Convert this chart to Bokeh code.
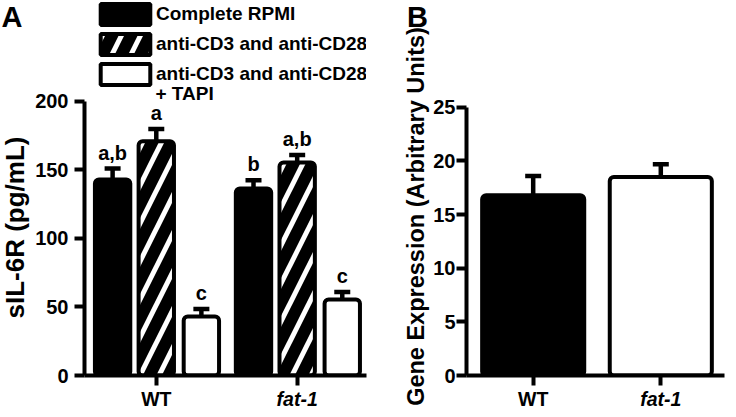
import math
from bokeh.plotting import figure
from bokeh.layouts import row, column
from bokeh.models import (ColumnDataSource, FixedTicker, Legend, LegendItem, Label,
                          Whisker, TeeHead, CustomJSTickFormatter, Range1d)
from bokeh.embed import file_html
from bokeh.resources import INLINE
from bokeh.core.properties import value

# ---------------- data ----------------
groups = ["WT", "fat-1"]
group_italic = [False, True]
treatments = ["Complete RPMI", "anti-CD3 and anti-CD28", "anti-CD3 and anti-CD28 + TAPI"]

complete_rpmi = [143, 136.5]
complete_rpmi_sem = [8, 6]
anti_cd3_cd28 = [171, 155.5]
anti_cd3_cd28_sem = [9, 5.5]
anti_cd3_cd28_tapi = [43, 55.5]
anti_cd3_cd28_tapi_sem = [5.5, 5.5]

letters_complete = ["a,b", "b"]
letters_anti = ["a", "a,b"]
letters_tapi = ["c", "c"]

a_yticks = [0, 50, 100, 150, 200]
a_ylabel = "sIL-6R (pg/mL)"
a_panel = "A"

gene_expression = [16.8, 18.5]
gene_expression_sem = [1.8, 1.2]
b_yticks = [0, 5, 10, 15, 20, 25]
b_ylabel = "Gene Expression (Arbitrary Units)"
b_panel = "B"

FONT = "Liberation Sans"
H = 409          # total height
H_TOP = 387      # height of plotting figures (frame 0..375 + ticks)
H_BOT = H - H_TOP


def blank_fig(width, height, x_range, y_range, **borders):
    f = figure(width=width, height=height, x_range=x_range, y_range=y_range,
               output_backend="svg", toolbar_location=None, x_axis_type=None, y_axis_type=None,
               min_border_left=borders.get("left", 0), min_border_right=borders.get("right", 0),
               min_border_top=0, min_border_bottom=0)
    f.outline_line_color = None
    f.background_fill_color = "white"
    f.border_fill_color = "white"
    return f


def style_axes(p, yticks, ybounds, ystandoff):
    p.xgrid.visible = False
    p.ygrid.visible = False
    p.outline_line_color = None
    p.background_fill_color = "white"
    p.border_fill_color = "white"
    for ax in (p.xaxis[0], p.yaxis[0]):
        ax.axis_line_width = 4
        ax.axis_line_color = "black"
        ax.major_tick_line_width = 4
        ax.major_tick_line_color = "black"
        ax.major_tick_in = 0
        ax.minor_tick_line_color = None
        ax.major_label_text_font = FONT
        ax.major_label_text_font_style = "bold"
        ax.major_label_text_color = "black"
    p.yaxis.ticker = FixedTicker(ticks=yticks)
    p.yaxis.bounds = ybounds
    p.yaxis.major_tick_out = 10
    p.yaxis.major_label_standoff = ystandoff
    p.yaxis.major_label_text_font_size = "20px"
    p.xaxis.ticker = FixedTicker(ticks=list(range(len(groups))))
    p.xaxis.formatter = CustomJSTickFormatter(code="return ''")
    p.xaxis.major_tick_out = 10
    p.xaxis.major_label_standoff = 0
    p.xaxis.major_label_text_font_size = "0px"


def group_labels(b):
    for i, g in enumerate(groups):
        b.text(x=[i], y=[H_BOT], text=[g], text_align="center", text_baseline="top",
               text_font=value(FONT),
               text_font_style="bold italic" if group_italic[i] else "bold",
               text_font_size="19.5px", text_color="black")


def side_texts(s, panel, px, py, ylabel, lx, ly, lsize):
    s.text(x=[px], y=[py], text=[panel], text_align="left", text_baseline="middle",
           text_font=value(FONT), text_font_style="bold", text_font_size="29px",
           text_color="black")
    s.text(x=[lx], y=[ly], text=[ylabel], angle=math.pi / 2, text_align="center",
           text_baseline="middle", text_font=value(FONT), text_font_style="bold",
           text_font_size=lsize, text_color="black")


# ---------------- panel A ----------------
SA_W = 32
pA = figure(width=336, height=H_TOP, x_range=Range1d(-0.5095, 1.492), y_range=Range1d(0, 273.7),
            output_backend="svg", toolbar_location=None,
            min_border_left=50, min_border_right=2, min_border_top=0, min_border_bottom=12)
style_axes(pA, a_yticks, (0, 200), 6)

offsets = [-0.31, 0.0, 0.32]
series = [
    (complete_rpmi, complete_rpmi_sem, letters_complete, "black", None),
    (anti_cd3_cd28, anti_cd3_cd28_sem, letters_anti, "black", "/"),
    (anti_cd3_cd28_tapi, anti_cd3_cd28_tapi_sem, letters_tapi, "white", None),
]
renderers = []
for k, (vals, sems, letters, fill, hatch) in enumerate(series):
    src = ColumnDataSource(dict(
        x=[i + offsets[k] for i in range(len(groups))],
        top=vals,
        upper=[v + s for v, s in zip(vals, sems)],
        label=letters,
    ))
    pA.add_layout(Whisker(source=src, base="x", upper="upper", lower="top",
                          line_width=4.5, line_color="black",
                          upper_head=TeeHead(size=16, line_width=4.5, line_color="black"),
                          lower_head=None))
    r = pA.vbar(x="x", top="top", bottom=0, width=0.251, source=src,
                fill_color=fill, line_color="black", line_width=4,
                hatch_pattern=hatch, hatch_color="white", hatch_weight=5, hatch_scale=38,
                border_radius=4)
    renderers.append(r)
    pA.text(x="x", y="upper", text="label", source=src, text_align="center",
            text_baseline="bottom", y_offset=-5, text_font=value(FONT),
            text_font_style="bold", text_font_size="20px", text_color="black")

third_lines = treatments[2].split(" + ")
legend_labels = [treatments[0], treatments[1], third_lines[0]]
legend = Legend(items=[LegendItem(label=lab, renderers=[r]) for lab, r in zip(legend_labels, renderers)],
                location=(10, 288), orientation="vertical", padding=0, margin=0, spacing=4,
                glyph_width=62, glyph_height=26, label_height=26, label_standoff=0,
                label_text_font=FONT, label_text_font_style="bold", label_text_font_size="19px",
                label_text_color="black", border_line_alpha=0, background_fill_alpha=0)
pA.add_layout(legend)
pA.add_layout(Label(x=71, y=282, x_units="screen", y_units="screen", text="+ " + third_lines[1],
                    text_baseline="middle", text_font=FONT, text_font_style="bold",
                    text_font_size="19px", text_color="black"))

sA = blank_fig(SA_W, H, Range1d(0, SA_W), Range1d(0, H))
side_texts(sA, a_panel, 1, H - 16.5, a_ylabel, 14.8, H - 227, "26px")

bA = blank_fig(336, H_BOT, pA.x_range, Range1d(0, H_BOT), left=50, right=2)
group_labels(bA)

# ---------------- panel B ----------------
SB_W = 62
pB = figure(width=298, height=H_TOP, x_range=Range1d(-0.5226, 1.4992), y_range=Range1d(0, 34.95),
            output_backend="svg", toolbar_location=None,
            min_border_left=34, min_border_right=4, min_border_top=0, min_border_bottom=12)
style_axes(pB, b_yticks, (0, 25), 1)

srcB = ColumnDataSource(dict(
    x=list(range(len(groups))),
    top=gene_expression,
    upper=[v + s for v, s in zip(gene_expression, gene_expression_sem)],
    fill=["black", "white"],
))
pB.add_layout(Whisker(source=srcB, base="x", upper="upper", lower="top",
                      line_width=4.5, line_color="black",
                      upper_head=TeeHead(size=16, line_width=4.5, line_color="black"),
                      lower_head=None))
pB.vbar(x="x", top="top", bottom=0, width=0.80, source=srcB, fill_color="fill",
        line_color="black", line_width=4, border_radius=4)

sB = blank_fig(SB_W, H, Range1d(0, SB_W), Range1d(0, H))
side_texts(sB, b_panel, 38.5, H - 16.5, b_ylabel, 47.4, H - 216, "23.5px")

bB = blank_fig(298, H_BOT, pB.x_range, Range1d(0, H_BOT), left=34, right=4)
group_labels(bB)

layout = row(sA, column(pA, bA), sB, column(pB, bB))
open("out.html", "w").write(file_html(layout, INLINE))
